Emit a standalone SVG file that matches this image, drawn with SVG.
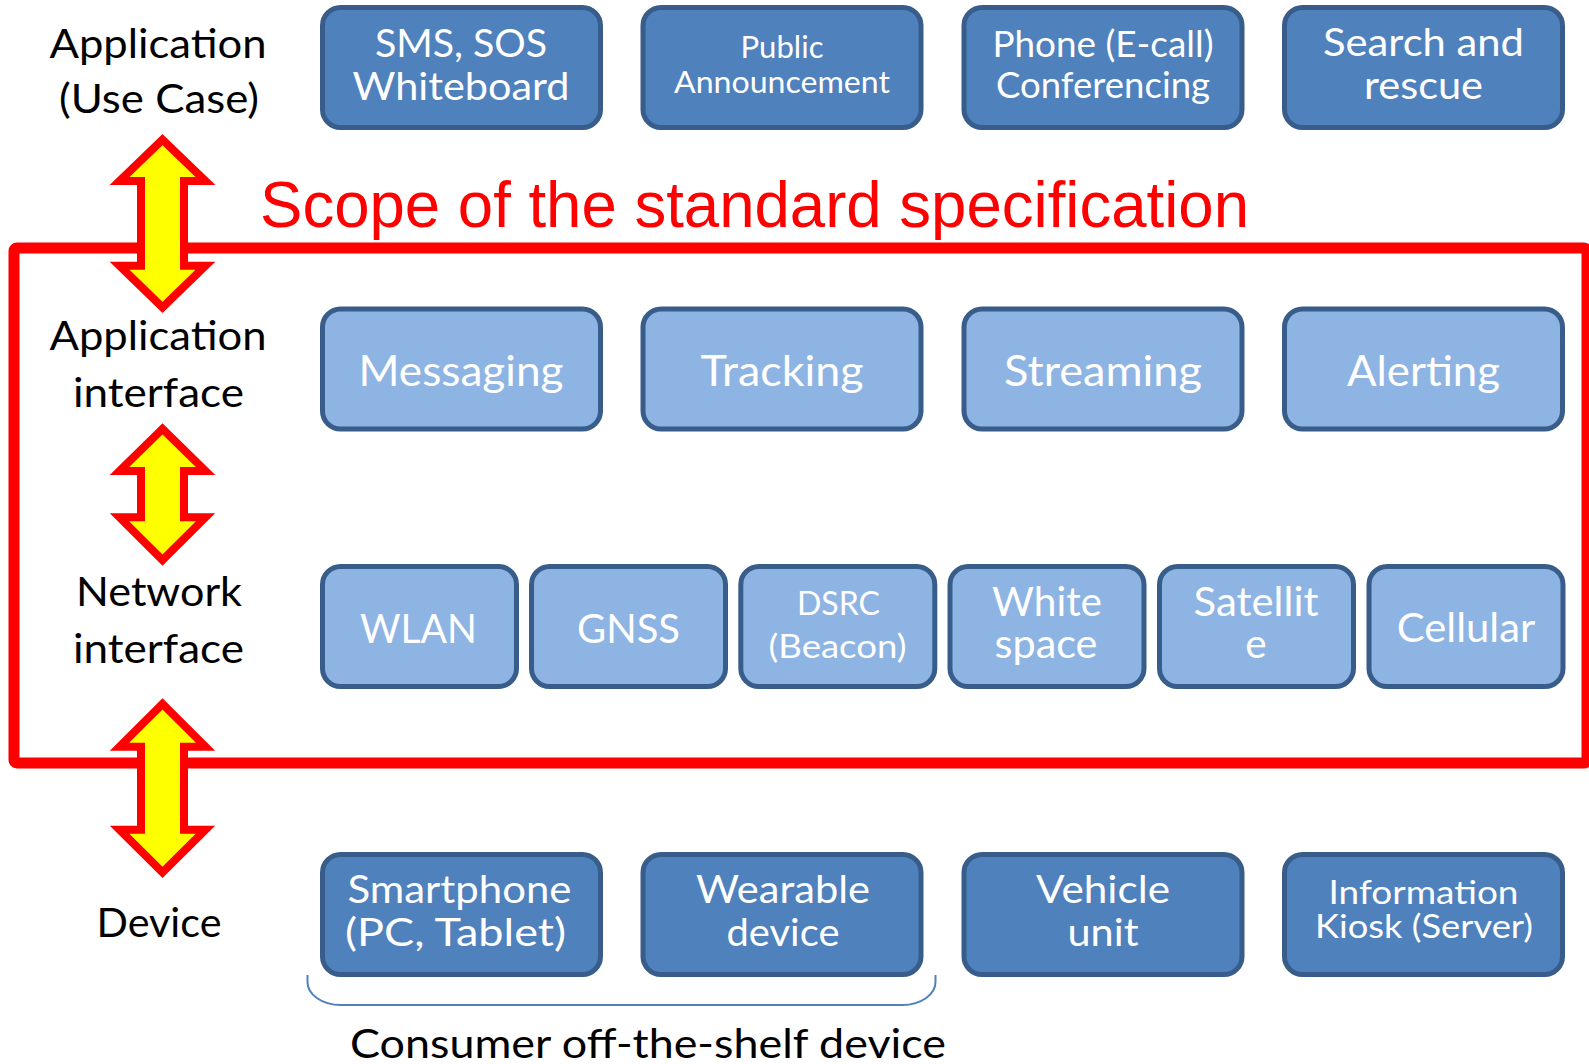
<svg xmlns="http://www.w3.org/2000/svg" width="1589" height="1064" viewBox="0 0 1589 1064">
  <style>
    .dark { fill: #4F81BD; stroke: #385D8A; stroke-width: 5; }
    .light { fill: #8EB4E3; stroke: #385D8A; stroke-width: 5; }
    .t { font-family: Lato, "Open Sans", "DejaVu Sans", sans-serif; fill: #FFFFFF; text-anchor: middle; }
    .side { font-family: Lato, "Open Sans", "DejaVu Sans", sans-serif; fill: #000000; text-anchor: middle; font-size: 41.5px; }
    .scope { font-family: "Liberation Sans", Arial, sans-serif; fill: #FF0000; font-size: 64.5px; }
    .arrow { fill: #FFFF00; stroke: #FF0000; stroke-width: 8; stroke-linejoin: miter; }
    .brace { fill: none; stroke: #4F81BD; stroke-width: 2; }
  </style>

  <rect width="1589" height="1064" fill="#FFFFFF"/>

  <!-- scope frame and its title -->
  <g id="scope">
    <rect x="14" y="248" width="1573" height="515" rx="3" fill="none" stroke="#FF0000" stroke-width="11" stroke-linejoin="round"/>
    <text class="scope" x="260" y="226.5" textLength="989" lengthAdjust="spacingAndGlyphs">Scope of the standard specification</text>
  </g>

  <!-- layer captions -->
  <g id="layer-labels">
    <text class="side" x="158" y="58" textLength="217" lengthAdjust="spacingAndGlyphs">Application</text>
    <text class="side" x="159" y="113" textLength="200" lengthAdjust="spacingAndGlyphs">(Use Case)</text>
    <text class="side" x="158" y="350" textLength="217" lengthAdjust="spacingAndGlyphs">Application</text>
    <text class="side" x="158.5" y="406.5" textLength="171" lengthAdjust="spacingAndGlyphs">interface</text>
    <text class="side" x="159" y="605.5" textLength="166" lengthAdjust="spacingAndGlyphs">Network</text>
    <text class="side" x="158.5" y="663" textLength="171" lengthAdjust="spacingAndGlyphs">interface</text>
    <text class="side" x="159" y="936.5" textLength="125" lengthAdjust="spacingAndGlyphs">Device</text>
  </g>

  <!-- application (use case) row -->
  <g id="app-sms">
    <rect class="dark" x="322.5" y="7.5" width="278" height="120" rx="18"/>
    <text class="t" x="461" y="57" font-size="39.5" textLength="172" lengthAdjust="spacingAndGlyphs">SMS, SOS</text>
    <text class="t" x="461" y="100" font-size="39.5" textLength="217" lengthAdjust="spacingAndGlyphs">Whiteboard</text>
  </g>
  <g id="app-public">
    <rect class="dark" x="643" y="7.5" width="278" height="120" rx="18"/>
    <text class="t" x="782" y="58.3" font-size="30" textLength="83" lengthAdjust="spacingAndGlyphs">Public</text>
    <text class="t" x="782" y="93.3" font-size="30" textLength="216" lengthAdjust="spacingAndGlyphs">Announcement</text>
  </g>
  <g id="app-phone">
    <rect class="dark" x="964" y="7.5" width="278" height="120" rx="18"/>
    <text class="t" x="1103" y="57" font-size="36" textLength="221" lengthAdjust="spacingAndGlyphs">Phone (E-call)</text>
    <text class="t" x="1103" y="98" font-size="36" textLength="214" lengthAdjust="spacingAndGlyphs">Conferencing</text>
  </g>
  <g id="app-search">
    <rect class="dark" x="1284.5" y="7.5" width="278" height="120" rx="18"/>
    <text class="t" x="1423.5" y="56" font-size="39.5" textLength="201" lengthAdjust="spacingAndGlyphs">Search and</text>
    <text class="t" x="1423.5" y="99" font-size="39.5" textLength="119" lengthAdjust="spacingAndGlyphs">rescue</text>
  </g>

  <!-- application interface row -->
  <g id="if-messaging">
    <rect class="light" x="322.5" y="309" width="278" height="120" rx="18"/>
    <text class="t" x="461" y="385.7" font-size="43" textLength="205" lengthAdjust="spacingAndGlyphs">Messaging</text>
  </g>
  <g id="if-tracking">
    <rect class="light" x="643" y="309" width="278" height="120" rx="18"/>
    <text class="t" x="782" y="385.7" font-size="43" textLength="163" lengthAdjust="spacingAndGlyphs">Tracking</text>
  </g>
  <g id="if-streaming">
    <rect class="light" x="964" y="309" width="278" height="120" rx="18"/>
    <text class="t" x="1103" y="385.7" font-size="43" textLength="198" lengthAdjust="spacingAndGlyphs">Streaming</text>
  </g>
  <g id="if-alerting">
    <rect class="light" x="1284.5" y="309" width="278" height="120" rx="18"/>
    <text class="t" x="1423.5" y="385.7" font-size="43" textLength="153" lengthAdjust="spacingAndGlyphs">Alerting</text>
  </g>

  <!-- network interface row -->
  <g id="net-wlan">
    <rect class="light" x="322.5" y="566.5" width="194" height="120" rx="18"/>
    <text class="t" x="418.5" y="643" font-size="41" textLength="117" lengthAdjust="spacingAndGlyphs">WLAN</text>
  </g>
  <g id="net-gnss">
    <rect class="light" x="531.5" y="566.5" width="194" height="120" rx="18"/>
    <text class="t" x="628.5" y="643" font-size="41" textLength="103" lengthAdjust="spacingAndGlyphs">GNSS</text>
  </g>
  <g id="net-dsrc">
    <rect class="light" x="740.8" y="566.5" width="194" height="120" rx="18"/>
    <text class="t" x="838.5" y="615" font-size="32.5" textLength="83" lengthAdjust="spacingAndGlyphs">DSRC</text>
    <text class="t" x="837.5" y="658.3" font-size="32.5" textLength="138" lengthAdjust="spacingAndGlyphs">(Beacon)</text>
  </g>
  <g id="net-whitespace">
    <rect class="light" x="950" y="566.5" width="194" height="120" rx="18"/>
    <text class="t" x="1047" y="616" font-size="40.5" textLength="110" lengthAdjust="spacingAndGlyphs">White</text>
    <text class="t" x="1046" y="658" font-size="40.5" textLength="103" lengthAdjust="spacingAndGlyphs">space</text>
  </g>
  <g id="net-satellite">
    <rect class="light" x="1159.5" y="566.5" width="194" height="120" rx="18"/>
    <text class="t" x="1256" y="616" font-size="40.5" textLength="125" lengthAdjust="spacingAndGlyphs">Satellit</text>
    <text class="t" x="1256" y="658" font-size="40.5">e</text>
  </g>
  <g id="net-cellular">
    <rect class="light" x="1369" y="566.5" width="194" height="120" rx="18"/>
    <text class="t" x="1466" y="642" font-size="40.5" textLength="138.5" lengthAdjust="spacingAndGlyphs">Cellular</text>
  </g>

  <!-- device row -->
  <g id="dev-smartphone">
    <rect class="dark" x="322.5" y="854.5" width="278" height="120" rx="18"/>
    <text class="t" x="459.5" y="903" font-size="39.5" textLength="224" lengthAdjust="spacingAndGlyphs">Smartphone</text>
    <text class="t" x="455.5" y="946" font-size="39.5" textLength="221" lengthAdjust="spacingAndGlyphs">(PC, Tablet)</text>
  </g>
  <g id="dev-wearable">
    <rect class="dark" x="643" y="854.5" width="278" height="120" rx="18"/>
    <text class="t" x="783" y="903" font-size="39.5" textLength="174" lengthAdjust="spacingAndGlyphs">Wearable</text>
    <text class="t" x="783" y="946" font-size="39.5" textLength="113" lengthAdjust="spacingAndGlyphs">device</text>
  </g>
  <g id="dev-vehicle">
    <rect class="dark" x="964" y="854.5" width="278" height="120" rx="18"/>
    <text class="t" x="1103" y="903" font-size="39.5" textLength="134" lengthAdjust="spacingAndGlyphs">Vehicle</text>
    <text class="t" x="1103" y="946" font-size="39.5" textLength="71" lengthAdjust="spacingAndGlyphs">unit</text>
  </g>
  <g id="dev-kiosk">
    <rect class="dark" x="1284.5" y="854.5" width="278" height="120" rx="18"/>
    <text class="t" x="1423.5" y="904" font-size="32.5" textLength="190" lengthAdjust="spacingAndGlyphs">Information</text>
    <text class="t" x="1424" y="938.3" font-size="32.5" textLength="218" lengthAdjust="spacingAndGlyphs">Kiosk (Server)</text>
  </g>

  <!-- bracket grouping the consumer devices -->
  <g id="cots-group">
    <path class="brace" d="M307.5,975 L307.5,982 A33,23 0 0 0 340.5,1005 L902.5,1005 A33,23 0 0 0 935.5,982 L935.5,975"/>
    <text class="side" x="648" y="1058" textLength="596" lengthAdjust="spacingAndGlyphs">Consumer off-the-shelf device</text>
  </g>

  <!-- double-headed arrows between layers -->
  <g id="connectors">
    <polygon class="arrow" points="162.5,139.6 205.5,181 184,181 184,265.7 205.5,265.7 162.5,307.4 119.5,265.7 141,265.7 141,181 119.5,181"/>
    <polygon class="arrow" points="162.5,428.9 205.5,471 184,471 184,517.3 205.5,517.3 162.5,560 119.5,517.3 141,517.3 141,471 119.5,471"/>
    <polygon class="arrow" points="162.5,703.9 205.5,746.7 184,746.7 184,829.7 205.5,829.7 162.5,872.4 119.5,829.7 141,829.7 141,746.7 119.5,746.7"/>
  </g>
</svg>
